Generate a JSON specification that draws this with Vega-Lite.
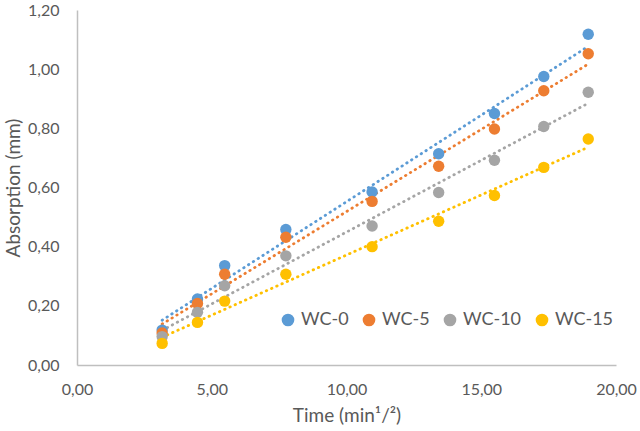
{
  "$schema": "https://vega.github.io/schema/vega-lite/v6.json",
  "width": 539,
  "height": 355,
  "autosize": "none",
  "padding": {"left": 77, "top": 10, "right": 24, "bottom": 66},
  "config": {
    "locale": {"number": {"decimal": ",", "thousands": ".", "grouping": [3], "currency": ["", " €"]}},
    "font": "Lato",
    "view": {"stroke": null},
    "axis": {
      "grid": false,
      "ticks": false,
      "labelFlush": false,
      "domainColor": "#bfbfbf",
      "domainWidth": 1.5,
      "labelColor": "#595959",
      "labelFontSize": 16,
      "titleColor": "#595959",
      "titleFontSize": 19,
      "titleFontWeight": "normal",
      "labelFont": "Lato",
      "titleFont": "Lato"
    }
  },
  "data": {
    "values": [
      {"t": 3.16, "a": 0.118, "series": "WC-0"},
      {"t": 4.47, "a": 0.223, "series": "WC-0"},
      {"t": 5.48, "a": 0.336, "series": "WC-0"},
      {"t": 7.75, "a": 0.458, "series": "WC-0"},
      {"t": 10.95, "a": 0.585, "series": "WC-0"},
      {"t": 13.42, "a": 0.714, "series": "WC-0"},
      {"t": 15.49, "a": 0.85, "series": "WC-0"},
      {"t": 17.32, "a": 0.975, "series": "WC-0"},
      {"t": 18.97, "a": 1.118, "series": "WC-0"},
      {"t": 3.16, "a": 0.108, "series": "WC-5"},
      {"t": 4.47, "a": 0.208, "series": "WC-5"},
      {"t": 5.48, "a": 0.307, "series": "WC-5"},
      {"t": 7.75, "a": 0.432, "series": "WC-5"},
      {"t": 10.95, "a": 0.553, "series": "WC-5"},
      {"t": 13.42, "a": 0.672, "series": "WC-5"},
      {"t": 15.49, "a": 0.798, "series": "WC-5"},
      {"t": 17.32, "a": 0.927, "series": "WC-5"},
      {"t": 18.97, "a": 1.052, "series": "WC-5"},
      {"t": 3.16, "a": 0.096, "series": "WC-10"},
      {"t": 4.47, "a": 0.178, "series": "WC-10"},
      {"t": 5.48, "a": 0.268, "series": "WC-10"},
      {"t": 7.75, "a": 0.369, "series": "WC-10"},
      {"t": 10.95, "a": 0.47, "series": "WC-10"},
      {"t": 13.42, "a": 0.583, "series": "WC-10"},
      {"t": 15.49, "a": 0.692, "series": "WC-10"},
      {"t": 17.32, "a": 0.806, "series": "WC-10"},
      {"t": 18.97, "a": 0.922, "series": "WC-10"},
      {"t": 3.16, "a": 0.073, "series": "WC-15"},
      {"t": 4.47, "a": 0.144, "series": "WC-15"},
      {"t": 5.48, "a": 0.216, "series": "WC-15"},
      {"t": 7.75, "a": 0.307, "series": "WC-15"},
      {"t": 10.95, "a": 0.4, "series": "WC-15"},
      {"t": 13.42, "a": 0.486, "series": "WC-15"},
      {"t": 15.49, "a": 0.573, "series": "WC-15"},
      {"t": 17.32, "a": 0.668, "series": "WC-15"},
      {"t": 18.97, "a": 0.764, "series": "WC-15"}
    ]
  },
  "encoding": {
    "x": {
      "field": "t",
      "type": "quantitative",
      "title": "Time (min¹/²)",
      "scale": {"domain": [0, 20], "nice": false},
      "axis": {"values": [0, 5, 10, 15, 20], "format": ".2f", "labelPadding": 16, "titlePadding": 9}
    },
    "y": {
      "field": "a",
      "type": "quantitative",
      "title": "Absorption (mm)",
      "scale": {"domain": [0, 1.2], "nice": false},
      "axis": {"values": [0, 0.2, 0.4, 0.6, 0.8, 1, 1.2], "format": ".2f", "labelPadding": 18, "titlePadding": 4}
    },
    "color": {
      "field": "series",
      "type": "nominal",
      "scale": {
        "domain": ["WC-0", "WC-5", "WC-10", "WC-15"],
        "range": ["#5b9bd5", "#ed7d31", "#a5a5a5", "#ffc000"]
      },
      "legend": {
        "title": null,
        "orient": "none",
        "direction": "horizontal",
        "legendX": 202,
        "legendY": 301,
        "symbolType": "circle",
        "symbolSize": 160,
        "symbolStrokeWidth": 0,
        "labelFontSize": 18,
        "labelColor": "#595959",
        "labelFont": "Lato",
        "columnPadding": 11,
        "labelOffset": 4
      }
    }
  },
  "layer": [
    {
      "transform": [{"regression": "a", "on": "t", "groupby": ["series"]}],
      "mark": {"type": "line", "strokeDash": [0.5, 5.2], "strokeWidth": 2.8, "strokeCap": "round"},
      "encoding": {}
    },
    {
      "mark": {"type": "point", "filled": true, "size": 130, "opacity": 1}
    }
  ]
}
